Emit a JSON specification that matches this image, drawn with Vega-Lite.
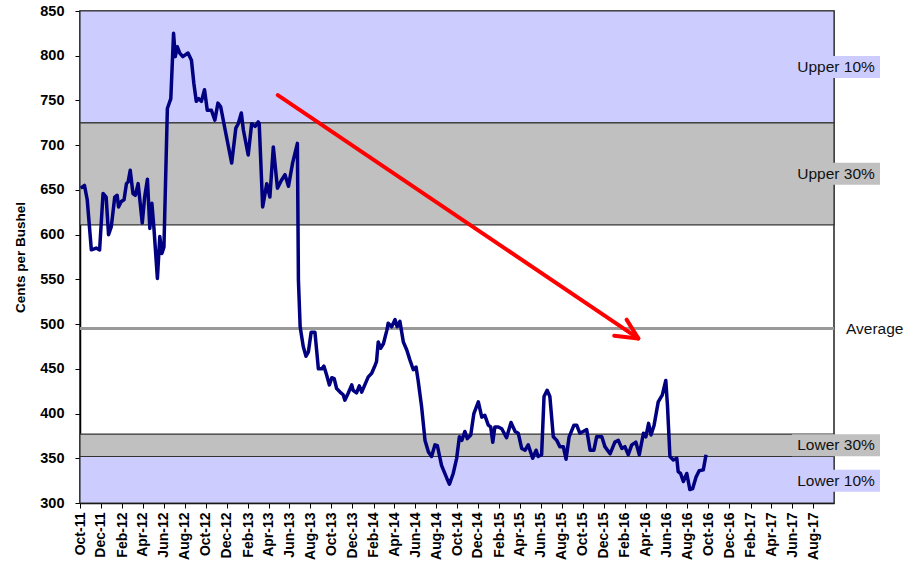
{
  "$schema": "https://vega.github.io/schema/vega-lite/v6.json",
  "width": 754,
  "height": 492,
  "autosize": "none",
  "padding": {"left": 80, "top": 11, "right": 74, "bottom": 70},
  "config": {
    "font": "Liberation Sans",
    "view": {"stroke": "#222", "strokeWidth": 1.5},
    "axis": {"grid": false, "domainColor": "#000", "tickColor": "#000", "labelColor": "#000", "titleColor": "#000", "domainWidth": 1.5, "tickSize": 5},
    "axisX": {"labelFont": "Liberation Sans", "labelFontSize": 14, "labelFontWeight": "bold", "labelAngle": -90, "labelPadding": 4},
    "axisY": {"labelFont": "Liberation Sans", "labelFontSize": 14.5, "labelFontWeight": "bold", "labelPadding": 11, "titleFont": "Liberation Sans", "titleFontSize": 13.5, "titleFontWeight": "bold", "titlePadding": 12}
  },
  "datasets": {
    "bands": [
      {"zone": "Upper 10%", "lo": 725, "hi": 850, "mid": 787.5},
      {"zone": "Upper 30%", "lo": 611, "hi": 725, "mid": 668},
      {"zone": "Lower 30%", "lo": 352, "hi": 377, "mid": 364.5},
      {"zone": "Lower 10%", "lo": 300, "hi": 352, "mid": 325}
    ],
    "average": [{"label": "Average", "value": 495}],
    "prices": [
      {"date": "2011-10-03", "price": 652},
      {"date": "2011-10-14", "price": 655},
      {"date": "2011-10-22", "price": 639},
      {"date": "2011-11-03", "price": 583},
      {"date": "2011-11-17", "price": 585},
      {"date": "2011-11-27", "price": 583},
      {"date": "2011-12-07", "price": 646},
      {"date": "2011-12-16", "price": 642},
      {"date": "2011-12-23", "price": 600},
      {"date": "2011-12-31", "price": 609},
      {"date": "2012-01-10", "price": 642},
      {"date": "2012-01-17", "price": 644},
      {"date": "2012-01-21", "price": 631},
      {"date": "2012-01-29", "price": 637},
      {"date": "2012-02-06", "price": 639},
      {"date": "2012-02-13", "price": 657},
      {"date": "2012-02-18", "price": 659},
      {"date": "2012-02-24", "price": 672},
      {"date": "2012-03-03", "price": 646},
      {"date": "2012-03-10", "price": 644},
      {"date": "2012-03-18", "price": 657},
      {"date": "2012-03-30", "price": 613},
      {"date": "2012-04-06", "price": 642},
      {"date": "2012-04-14", "price": 662},
      {"date": "2012-04-21", "price": 607},
      {"date": "2012-04-27", "price": 635},
      {"date": "2012-05-03", "price": 607},
      {"date": "2012-05-13", "price": 551},
      {"date": "2012-05-20", "price": 598},
      {"date": "2012-05-26", "price": 579},
      {"date": "2012-06-01", "price": 586},
      {"date": "2012-06-11", "price": 741},
      {"date": "2012-06-21", "price": 752},
      {"date": "2012-06-29", "price": 825},
      {"date": "2012-07-04", "price": 799},
      {"date": "2012-07-10", "price": 810},
      {"date": "2012-07-17", "price": 803},
      {"date": "2012-07-26", "price": 799},
      {"date": "2012-08-10", "price": 803},
      {"date": "2012-08-20", "price": 795},
      {"date": "2012-08-27", "price": 769},
      {"date": "2012-09-03", "price": 749},
      {"date": "2012-09-10", "price": 752},
      {"date": "2012-09-18", "price": 749},
      {"date": "2012-09-27", "price": 762},
      {"date": "2012-10-05", "price": 739},
      {"date": "2012-10-17", "price": 739},
      {"date": "2012-10-27", "price": 728},
      {"date": "2012-11-05", "price": 747},
      {"date": "2012-11-13", "price": 743},
      {"date": "2012-11-26", "price": 717},
      {"date": "2012-12-15", "price": 680},
      {"date": "2012-12-27", "price": 719},
      {"date": "2013-01-03", "price": 724},
      {"date": "2013-01-12", "price": 736},
      {"date": "2013-01-18", "price": 717},
      {"date": "2013-02-01", "price": 689},
      {"date": "2013-02-11", "price": 724},
      {"date": "2013-02-21", "price": 721},
      {"date": "2013-03-02", "price": 726},
      {"date": "2013-03-05", "price": 724},
      {"date": "2013-03-15", "price": 631},
      {"date": "2013-03-27", "price": 657},
      {"date": "2013-04-05", "price": 642},
      {"date": "2013-04-15", "price": 698},
      {"date": "2013-04-27", "price": 652},
      {"date": "2013-05-09", "price": 661},
      {"date": "2013-05-19", "price": 667},
      {"date": "2013-05-29", "price": 654},
      {"date": "2013-06-10", "price": 680},
      {"date": "2013-06-24", "price": 702},
      {"date": "2013-06-27", "price": 549},
      {"date": "2013-07-02", "price": 497},
      {"date": "2013-07-11", "price": 475},
      {"date": "2013-07-19", "price": 464},
      {"date": "2013-07-26", "price": 469},
      {"date": "2013-08-03", "price": 491},
      {"date": "2013-08-14", "price": 491},
      {"date": "2013-08-24", "price": 450},
      {"date": "2013-09-03", "price": 450},
      {"date": "2013-09-09", "price": 453},
      {"date": "2013-09-17", "price": 443},
      {"date": "2013-09-25", "price": 432},
      {"date": "2013-10-02", "price": 440},
      {"date": "2013-10-09", "price": 439},
      {"date": "2013-10-16", "price": 428},
      {"date": "2013-10-26", "price": 424},
      {"date": "2013-11-04", "price": 421},
      {"date": "2013-11-09", "price": 415},
      {"date": "2013-11-19", "price": 423},
      {"date": "2013-11-29", "price": 432},
      {"date": "2013-12-03", "price": 426},
      {"date": "2013-12-13", "price": 423},
      {"date": "2013-12-21", "price": 431},
      {"date": "2013-12-28", "price": 424},
      {"date": "2014-01-06", "price": 432},
      {"date": "2014-01-16", "price": 441},
      {"date": "2014-01-26", "price": 445},
      {"date": "2014-02-05", "price": 454},
      {"date": "2014-02-09", "price": 458},
      {"date": "2014-02-14", "price": 480},
      {"date": "2014-02-21", "price": 473},
      {"date": "2014-03-01", "price": 478},
      {"date": "2014-03-11", "price": 493},
      {"date": "2014-03-15", "price": 501},
      {"date": "2014-03-25", "price": 497},
      {"date": "2014-04-04", "price": 505},
      {"date": "2014-04-10", "price": 497},
      {"date": "2014-04-18", "price": 503},
      {"date": "2014-04-28", "price": 480},
      {"date": "2014-05-08", "price": 471},
      {"date": "2014-05-17", "price": 460},
      {"date": "2014-05-27", "price": 449},
      {"date": "2014-06-04", "price": 452},
      {"date": "2014-06-10", "price": 437},
      {"date": "2014-06-20", "price": 408},
      {"date": "2014-06-30", "price": 370},
      {"date": "2014-07-10", "price": 357},
      {"date": "2014-07-19", "price": 352},
      {"date": "2014-07-29", "price": 365},
      {"date": "2014-08-05", "price": 364},
      {"date": "2014-08-17", "price": 342},
      {"date": "2014-09-01", "price": 328},
      {"date": "2014-09-09", "price": 321},
      {"date": "2014-09-20", "price": 333},
      {"date": "2014-09-30", "price": 350},
      {"date": "2014-10-08", "price": 374},
      {"date": "2014-10-15", "price": 370},
      {"date": "2014-10-24", "price": 380},
      {"date": "2014-10-31", "price": 372},
      {"date": "2014-11-10", "price": 376},
      {"date": "2014-11-19", "price": 400},
      {"date": "2014-12-02", "price": 413},
      {"date": "2014-12-12", "price": 396},
      {"date": "2014-12-21", "price": 398},
      {"date": "2014-12-31", "price": 387},
      {"date": "2015-01-07", "price": 385},
      {"date": "2015-01-13", "price": 368},
      {"date": "2015-01-19", "price": 385},
      {"date": "2015-01-29", "price": 385},
      {"date": "2015-02-08", "price": 383},
      {"date": "2015-02-22", "price": 373},
      {"date": "2015-03-07", "price": 390},
      {"date": "2015-03-19", "price": 380},
      {"date": "2015-03-28", "price": 378},
      {"date": "2015-04-07", "price": 361},
      {"date": "2015-04-17", "price": 359},
      {"date": "2015-04-26", "price": 365},
      {"date": "2015-05-09", "price": 350},
      {"date": "2015-05-19", "price": 359},
      {"date": "2015-05-25", "price": 352},
      {"date": "2015-06-04", "price": 354},
      {"date": "2015-06-11", "price": 419},
      {"date": "2015-06-20", "price": 426},
      {"date": "2015-06-28", "price": 419},
      {"date": "2015-07-08", "price": 374},
      {"date": "2015-07-18", "price": 370},
      {"date": "2015-07-27", "price": 363},
      {"date": "2015-08-06", "price": 363},
      {"date": "2015-08-14", "price": 349},
      {"date": "2015-08-23", "price": 374},
      {"date": "2015-09-06", "price": 387},
      {"date": "2015-09-14", "price": 387},
      {"date": "2015-09-23", "price": 378},
      {"date": "2015-10-03", "price": 380},
      {"date": "2015-10-13", "price": 382},
      {"date": "2015-10-23", "price": 359},
      {"date": "2015-11-03", "price": 359},
      {"date": "2015-11-11", "price": 374},
      {"date": "2015-11-26", "price": 374},
      {"date": "2015-12-05", "price": 363},
      {"date": "2015-12-20", "price": 355},
      {"date": "2016-01-03", "price": 368},
      {"date": "2016-01-13", "price": 370},
      {"date": "2016-01-23", "price": 361},
      {"date": "2016-02-01", "price": 363},
      {"date": "2016-02-11", "price": 354},
      {"date": "2016-02-21", "price": 365},
      {"date": "2016-03-04", "price": 368},
      {"date": "2016-03-14", "price": 354},
      {"date": "2016-03-26", "price": 378},
      {"date": "2016-04-02", "price": 374},
      {"date": "2016-04-10", "price": 389},
      {"date": "2016-04-17", "price": 376},
      {"date": "2016-04-26", "price": 387},
      {"date": "2016-05-08", "price": 413},
      {"date": "2016-05-20", "price": 421},
      {"date": "2016-05-30", "price": 437},
      {"date": "2016-06-04", "price": 408},
      {"date": "2016-06-11", "price": 352},
      {"date": "2016-06-21", "price": 348},
      {"date": "2016-07-01", "price": 350},
      {"date": "2016-07-05", "price": 335},
      {"date": "2016-07-12", "price": 333},
      {"date": "2016-07-20", "price": 324},
      {"date": "2016-07-30", "price": 333},
      {"date": "2016-08-08", "price": 315},
      {"date": "2016-08-16", "price": 316},
      {"date": "2016-08-26", "price": 329},
      {"date": "2016-09-04", "price": 336},
      {"date": "2016-09-16", "price": 337},
      {"date": "2016-09-24", "price": 354}
    ],
    "arrow": [
      {"date": "2013-04-28", "price": 756, "date2": "2016-03-11", "price2": 484},
      {"date": "2016-02-06", "price": 505, "date2": "2016-03-11", "price2": 484},
      {"date": "2016-01-01", "price": 487, "date2": "2016-03-11", "price2": 484}
    ]
  },
  "encoding": {
    "x": {
      "field": "date", "type": "temporal", "title": null,
      "scale": {"type": "utc", "domain": [{"year": 2011, "month": 10, "date": 1, "utc": true}, {"year": 2017, "month": 10, "date": 1, "utc": true}]},
      "axis": {
        "labelExpr": "utcFormat(datum.value, '%b-%y')",
        "values": [
          {"year": 2011, "month": 10, "date": 1, "utc": true}, {"year": 2011, "month": 12, "date": 1, "utc": true},
          {"year": 2012, "month": 2, "date": 1, "utc": true}, {"year": 2012, "month": 4, "date": 1, "utc": true},
          {"year": 2012, "month": 6, "date": 1, "utc": true}, {"year": 2012, "month": 8, "date": 1, "utc": true},
          {"year": 2012, "month": 10, "date": 1, "utc": true}, {"year": 2012, "month": 12, "date": 1, "utc": true},
          {"year": 2013, "month": 2, "date": 1, "utc": true}, {"year": 2013, "month": 4, "date": 1, "utc": true},
          {"year": 2013, "month": 6, "date": 1, "utc": true}, {"year": 2013, "month": 8, "date": 1, "utc": true},
          {"year": 2013, "month": 10, "date": 1, "utc": true}, {"year": 2013, "month": 12, "date": 1, "utc": true},
          {"year": 2014, "month": 2, "date": 1, "utc": true}, {"year": 2014, "month": 4, "date": 1, "utc": true},
          {"year": 2014, "month": 6, "date": 1, "utc": true}, {"year": 2014, "month": 8, "date": 1, "utc": true},
          {"year": 2014, "month": 10, "date": 1, "utc": true}, {"year": 2014, "month": 12, "date": 1, "utc": true},
          {"year": 2015, "month": 2, "date": 1, "utc": true}, {"year": 2015, "month": 4, "date": 1, "utc": true},
          {"year": 2015, "month": 6, "date": 1, "utc": true}, {"year": 2015, "month": 8, "date": 1, "utc": true},
          {"year": 2015, "month": 10, "date": 1, "utc": true}, {"year": 2015, "month": 12, "date": 1, "utc": true},
          {"year": 2016, "month": 2, "date": 1, "utc": true}, {"year": 2016, "month": 4, "date": 1, "utc": true},
          {"year": 2016, "month": 6, "date": 1, "utc": true}, {"year": 2016, "month": 8, "date": 1, "utc": true},
          {"year": 2016, "month": 10, "date": 1, "utc": true}, {"year": 2016, "month": 12, "date": 1, "utc": true},
          {"year": 2017, "month": 2, "date": 1, "utc": true}, {"year": 2017, "month": 4, "date": 1, "utc": true},
          {"year": 2017, "month": 6, "date": 1, "utc": true}, {"year": 2017, "month": 8, "date": 1, "utc": true}
        ]
      }
    },
    "y": {
      "field": "price", "type": "quantitative", "title": "Cents per Bushel",
      "scale": {"domain": [300, 850], "nice": false, "zero": false},
      "axis": {"values": [300, 350, 400, 450, 500, 550, 600, 650, 700, 750, 800, 850]}
    }
  },
  "layer": [
    {
      "data": {"name": "bands"},
      "mark": {"type": "rect", "stroke": "#333", "strokeWidth": 1.2},
      "encoding": {
        "x": {"value": 0},
        "x2": {"value": "width"},
        "y": {"field": "lo", "type": "quantitative", "title": "Cents per Bushel", "scale": {"domain": [300, 850], "nice": false, "zero": false}, "axis": {"values": [300, 350, 400, 450, 500, 550, 600, 650, 700, 750, 800, 850]}},
        "y2": {"field": "hi"},
        "fill": {"field": "zone", "type": "nominal", "legend": null,
          "scale": {"domain": ["Upper 10%", "Upper 30%", "Lower 30%", "Lower 10%"], "range": ["#CCCCFF", "#C0C0C0", "#C0C0C0", "#CCCCFF"]}}
      }
    },
    {
      "data": {"name": "average"},
      "mark": {"type": "rule", "color": "#999999", "strokeWidth": 3},
      "encoding": {
        "x": {"value": 0},
        "x2": {"value": "width"},
        "y": {"field": "value", "type": "quantitative", "title": "Cents per Bushel", "scale": {"domain": [300, 850], "nice": false, "zero": false}, "axis": {"values": [300, 350, 400, 450, 500, 550, 600, 650, 700, 750, 800, 850]}}
      }
    },
    {
      "data": {"name": "prices"},
      "mark": {"type": "line", "color": "#000080", "strokeWidth": 3.5, "strokeJoin": "round"},
      "encoding": {}
    },
    {
      "data": {"name": "arrow"},
      "mark": {"type": "rule", "color": "#FF0000", "strokeWidth": 4, "strokeCap": "round"},
      "encoding": {
        "x2": {"field": "date2"},
        "y2": {"field": "price2"}
      }
    },
    {
      "data": {"name": "bands"},
      "mark": {"type": "rect", "height": 22, "xOffset": -42, "x2Offset": 46},
      "encoding": {
        "x": {"value": "width"},
        "x2": {"value": "width"},
        "y": {"field": "mid", "type": "quantitative", "title": "Cents per Bushel", "scale": {"domain": [300, 850], "nice": false, "zero": false}, "axis": {"values": [300, 350, 400, 450, 500, 550, 600, 650, 700, 750, 800, 850]}},
        "fill": {"field": "zone", "type": "nominal", "legend": null,
          "scale": {"domain": ["Upper 10%", "Upper 30%", "Lower 30%", "Lower 10%"], "range": ["#CCCCFF", "#C0C0C0", "#C0C0C0", "#CCCCFF"]}}
      }
    },
    {
      "data": {"name": "bands"},
      "mark": {"type": "text", "align": "center", "baseline": "middle", "fontSize": 15.5, "color": "#111", "font": "Liberation Sans", "dx": 2},
      "encoding": {
        "x": {"value": "width"},
        "y": {"field": "mid", "type": "quantitative", "title": "Cents per Bushel", "scale": {"domain": [300, 850], "nice": false, "zero": false}, "axis": {"values": [300, 350, 400, 450, 500, 550, 600, 650, 700, 750, 800, 850]}},
        "text": {"field": "zone"}
      }
    },
    {
      "data": {"name": "average"},
      "mark": {"type": "text", "align": "left", "baseline": "middle", "fontSize": 15.5, "color": "#111", "font": "Liberation Sans", "dx": 12},
      "encoding": {
        "x": {"value": "width"},
        "y": {"field": "value", "type": "quantitative", "title": "Cents per Bushel", "scale": {"domain": [300, 850], "nice": false, "zero": false}, "axis": {"values": [300, 350, 400, 450, 500, 550, 600, 650, 700, 750, 800, 850]}},
        "text": {"field": "label"}
      }
    }
  ]
}
